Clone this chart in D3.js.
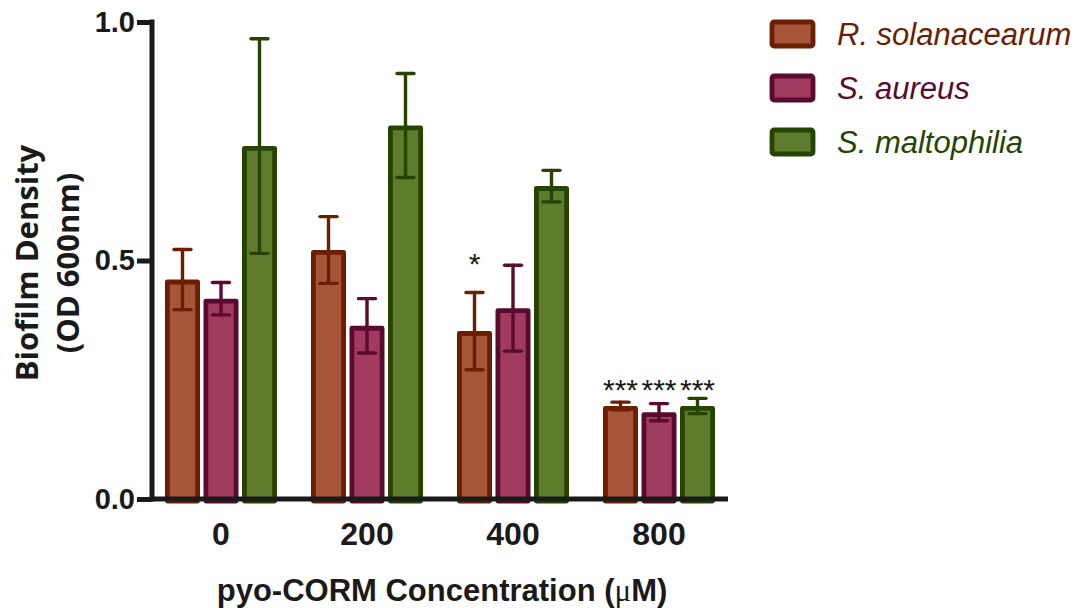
<!DOCTYPE html>
<html>
<head>
<meta charset="utf-8">
<script src="https://cdn.jsdelivr.net/npm/d3@7"></script>
<style>
  html, body { margin: 0; padding: 0; background: #fff; }
  svg { display: block; }
</style>
</head>
<body>
<svg id="chart" width="1079" height="608"></svg>
<script>
// pyo-CORM concentrations (µM) on the x axis
const concentrations = ["0", "200", "400", "800"];
const species = ["R. solanacearum", "S. aureus", "S. maltophilia"];

// Mean biofilm density (OD 600nm), one array per species, in concentration order
const rSolanacearum = [0.460, 0.522, 0.352, 0.195];
const sAureus       = [0.420, 0.363, 0.400, 0.182];
const sMaltophilia  = [0.740, 0.783, 0.656, 0.195];

// Error bar half-lengths
const rSolanacearumErr = [0.063, 0.070, 0.081, 0.008];
const sAureusErr       = [0.034, 0.057, 0.090, 0.018];
const sMaltophiliaErr  = [0.225, 0.109, 0.033, 0.016];

// Significance marks above each bar
const rSolanacearumSig = ["", "", "*", "***"];
const sAureusSig       = ["", "", "", "***"];
const sMaltophiliaSig  = ["", "", "", "***"];

const yTicks = [0, 0.5, 1.0];

const fills   = ["#a6553b", "#a03a5e", "#5f7b2c"];
const strokes = ["#6b1e00", "#5a0a2e", "#264400"];

const seriesValues = [rSolanacearum, sAureus, sMaltophilia];
const seriesErrs = [rSolanacearumErr, sAureusErr, sMaltophiliaErr];
const seriesSig = [rSolanacearumSig, sAureusSig, sMaltophiliaSig];

const rows = [];
concentrations.forEach((c, i) => {
  species.forEach((s, j) => {
    rows.push({ conc: c, sp: s, idx: j, value: seriesValues[j][i], err: seriesErrs[j][i], sig: seriesSig[j][i] });
  });
});

const svg = d3.select("#chart");
const axisColor = "#1a1a1a";
const sans = "Liberation Sans, Arial, Helvetica, sans-serif";

const x0 = d3.scaleBand().domain(concentrations).range([148, 732]);
const x1 = d3.scaleBand().domain(species).range([73 - 57.75, 73 + 57.75]);
const y = d3.scaleLinear().domain([0, 1]).range([499, 22]);

const barStroke = 4.8;
const barOuter = 35;

const g = svg.append("g");

// bars
g.selectAll("rect.bar").data(rows).join("rect")
  .attr("class", "bar")
  .attr("x", d => x0(d.conc) + x1(d.sp) + x1.bandwidth() / 2 - barOuter / 2 + barStroke / 2)
  .attr("width", barOuter - barStroke)
  .attr("y", d => y(d.value) + barStroke / 2)
  .attr("height", d => y(0) - y(d.value) - barStroke / 2 + 2)
  .attr("fill", d => fills[d.idx])
  .attr("stroke", d => strokes[d.idx])
  .attr("stroke-width", barStroke)
  .attr("stroke-linejoin", "round");

// error bars
const eb = g.selectAll("g.err").data(rows).join("g").attr("class", "err")
  .attr("stroke", d => strokes[d.idx])
  .attr("stroke-width", 3.4)
  .attr("stroke-linecap", "round");
const cx = d => x0(d.conc) + x1(d.sp) + x1.bandwidth() / 2;
eb.append("line")
  .attr("x1", cx).attr("x2", cx)
  .attr("y1", d => y(d.value + d.err)).attr("y2", d => y(d.value - d.err));
eb.append("line")
  .attr("x1", d => cx(d) - 8.5).attr("x2", d => cx(d) + 8.5)
  .attr("y1", d => y(d.value + d.err)).attr("y2", d => y(d.value + d.err));
eb.append("line")
  .attr("x1", d => cx(d) - 8.5).attr("x2", d => cx(d) + 8.5)
  .attr("y1", d => y(d.value - d.err)).attr("y2", d => y(d.value - d.err));

// significance asterisks: triple marks share one line above their group
const groupTop = {};
rows.forEach(d => {
  const t = y(d.value + d.err);
  groupTop[d.conc] = Math.min(groupTop[d.conc] ?? Infinity, t);
});
g.selectAll("text.sig").data(rows.filter(d => d.sig)).join("text")
  .attr("class", "sig")
  .attr("x", cx)
  .attr("y", d => d.sig === "*" ? y(d.value + d.err) - 18 : groupTop[d.conc] + 2)
  .attr("text-anchor", "middle")
  .attr("font-family", sans)
  .attr("font-size", 30)
  .attr("fill", "#1a1a1a")
  .text(d => d.sig);

// y axis
const yAxis = d3.axisLeft(y).tickValues(yTicks).tickFormat(d3.format(".1f")).tickSize(15).tickPadding(2);
const ya = svg.append("g").attr("transform", "translate(152,0)").call(yAxis);
ya.select(".domain").attr("d", `M0,${y(1) - 2.5}V${y(0) + 2.5}`)
  .attr("stroke", axisColor).attr("stroke-width", 5);
ya.selectAll(".tick line").attr("stroke", axisColor).attr("stroke-width", 5);
ya.selectAll(".tick text")
  .attr("fill", axisColor)
  .attr("font-family", sans)
  .attr("font-weight", "bold")
  .attr("font-size", 29);

// x axis
const xAxis = d3.axisBottom(x0).tickSize(0).tickPadding(23);
const xa = svg.append("g").attr("transform", `translate(0,${y(0)})`).call(xAxis);
xa.select(".domain").attr("d", `M150,0H728`).attr("stroke", axisColor).attr("stroke-width", 5);
xa.selectAll(".tick text")
  .attr("fill", axisColor)
  .attr("font-family", sans)
  .attr("font-weight", "bold")
  .attr("font-size", 32);

// axis titles
const yTitle = svg.append("text")
  .attr("transform", "translate(38,263) rotate(-90)")
  .attr("text-anchor", "middle")
  .attr("font-family", "Open Sans, sans-serif")
  .attr("font-weight", "bold")
  .attr("font-size", 31)
  .attr("fill", axisColor);
yTitle.append("tspan").attr("x", 0).attr("dy", 0).text("Biofilm Density");
yTitle.append("tspan").attr("x", 0).attr("dy", 41).text("(OD 600nm)");

const xTitle = svg.append("text")
  .attr("x", 442).attr("y", 601)
  .attr("text-anchor", "middle")
  .attr("font-family", sans)
  .attr("font-weight", "bold")
  .attr("font-size", 31)
  .attr("fill", axisColor);
xTitle.append("tspan").text("pyo-CORM Concentration (");
xTitle.append("tspan").attr("font-weight", "normal").attr("font-family", "Liberation Serif, serif").text("\u03BC");
xTitle.append("tspan").text("M)");

// legend
const legend = svg.append("g").attr("transform", "translate(770,20)");
const li = legend.selectAll("g").data(species).join("g")
  .attr("transform", (d, i) => `translate(0,${i * 54})`);
li.append("rect")
  .attr("x", 2).attr("y", 2).attr("width", 41).attr("height", 24)
  .attr("rx", 2)
  .attr("fill", (d, i) => fills[i])
  .attr("stroke", (d, i) => strokes[i])
  .attr("stroke-width", 4.8)
  .attr("stroke-linejoin", "round");
li.append("text")
  .attr("x", 67).attr("y", 25)
  .attr("font-family", sans)
  .attr("font-style", "italic")
  .attr("font-size", 31)
  .attr("fill", (d, i) => strokes[i])
  .text(d => d);
</script>
</body>
</html>
